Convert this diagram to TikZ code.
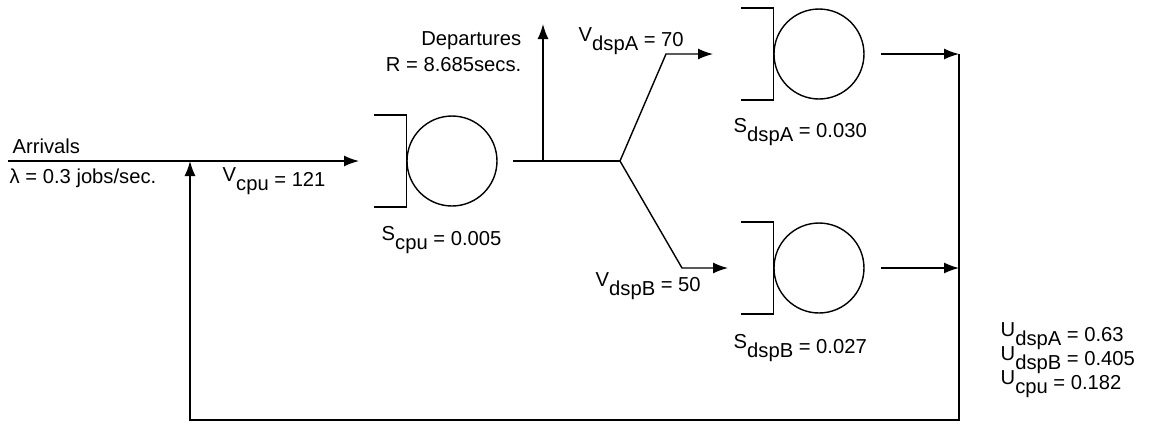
\documentclass[tikz,border=0pt]{standalone}
\usepackage{fontspec}
\setmainfont{Liberation Sans}
\usepackage{tikz}
\usetikzlibrary{positioning}
\usetikzlibrary{arrows.meta}

% letter lifted, index set low beside it
\newcommand{\qty}[2]{\raisebox{0.2em}{#1}\raisebox{-0.22em}{\fontsize{11.5}{12}\selectfont #2}}

\begin{document}
\begin{tikzpicture}[
            x = 0.02cm, y = -0.02cm, % one unit per pixel, y going down
            > = {Latex[length=3mm,width=2.2mm]}, % arrow head style
            line width = 0.8pt, % line style
            font = \fontsize{11.5}{14}\selectfont
        ]

        \tikzstyle{queue}=[
            circle,
            draw,
            inner sep = 0pt,
            minimum size = 1.8cm
        ]
        \tikzstyle{lbl}=[
            inner sep = 0pt,
            anchor = base west
        ]

        \useasboundingbox (0,0) rectangle (1154,424);

        % service centres
        \node[queue] (cpu) at (452,161) {};
        \node[queue] (dspA) at (819,54) {};
        \node[queue] (dspB) at (819,268) {};

        % queue brackets
        \foreach \q in {cpu, dspA, dspB}
            \draw ([shift={(-32,-46)}]\q.west) -- ++(32,0) -- ++(0,92) -- ++(-32,0);

        % routing points
        \coordinate (in) at (8,161);
        \coordinate (cpuin) at (359,161);
        \coordinate (cpuout) at (513,161);
        \coordinate (dep) at (543,161);
        \coordinate (deptop) at (543,24);
        \coordinate (fork) at (620,161);
        \coordinate (bendA) at (666,54);
        \coordinate (inA) at (713,54);
        \coordinate (bendB) at (682,268);
        \coordinate (inB) at (728,268);
        \coordinate (outA) at (881,54);
        \coordinate (outB) at (881,268);
        \coordinate (joinA) at (959,54);
        \coordinate (joinB) at (959,268);
        \coordinate (low) at (959,420);
        \coordinate (back) at (190,420);
        \coordinate (fb) at (190,161);

        % flows
        \path[->] (in) edge (cpuin);
        \draw (cpuout) -- (fork);
        \path[->] (dep) edge (deptop);
        \draw[->] (fork) -- (bendA) -- (inA);
        \draw[->] (fork) -- (bendB) -- (inB);
        \path[->] (outA) edge (joinA);
        \path[->] (outB) edge (joinB);

        % feedback loop
        \draw[->] (joinA) -- (low) -- (back) -- (fb);

        % labels
        \node[lbl] (arr) at (12,153) {Arrivals};
        \node[lbl] (lam) at (9,183) {λ = 0.3 jobs/sec.};
        \node[lbl] (vcpu) at (222,186) {\qty{V}{cpu} = 121};
        \node[lbl] (scpu) at (381,245) {\qty{S}{cpu} = 0.005};
        \node[lbl, anchor=base east] (depl) at (522,45) {Departures};
        \node[lbl, anchor=base east] (resp) at (522,71) {R = 8.685secs.};
        \node[lbl] (vA) at (578,46) {\qty{V}{dspA} = 70};
        \node[lbl] (sA) at (733,137) {\qty{S}{dspA} = 0.030};
        \node[lbl] (vB) at (595,291) {\qty{V}{dspB} = 50};
        \node[lbl] (sB) at (733,353) {\qty{S}{dspB} = 0.027};

        % utilisations
        \node[lbl] (uA) at (1000,341) {\qty{U}{dspA} = 0.63};
        \node[lbl] (uB) at (1000,365) {\qty{U}{dspB} = 0.405};
        \node[lbl] (uC) at (1000,389) {\qty{U}{cpu} = 0.182};

\end{tikzpicture}
\end{document}
